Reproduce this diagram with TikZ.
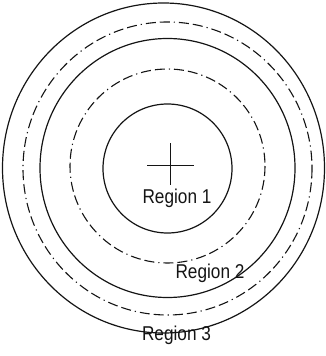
\documentclass[tikz,border=0pt]{standalone}
\usepackage{fontspec}
\usepackage{xcolor}
\newfontfamily\labelfont{Liberation Sans}
\definecolor{ringblack}{RGB}{20,20,20}
\usetikzlibrary{positioning}

\tikzset{
  ring/.style={draw=ringblack, line width=1.2pt},
  dashring/.style={draw=ringblack, line width=1.1pt, dash pattern=on 10pt off 4pt on 10pt off 4pt on 1.2pt off 4pt},
  regionlabel/.style={font=\labelfont\fontsize{20}{20}\selectfont, ringblack, inner sep=0pt, xscale=0.86}
}

\begin{document}
\begin{tikzpicture}[x=1pt, y=-1pt]
  % Frame
  \useasboundingbox (0,0) rectangle (325,356);

  % --- Solid rings ---
  \draw[ring] (167.5,168.5) circle [radius=64.5];
  \draw[ring] (167.5,168) ellipse [x radius=127.5, y radius=129.5];
  \draw[ring] (163.5,168) ellipse [x radius=161, y radius=165];

  % --- Dash-dot rings ---
  \draw[dashring] (167.5,166) ellipse [x radius=97.5, y radius=97];
  \draw[dashring] (167.5,168.5) ellipse [x radius=144.5, y radius=146.5];

  % Centre cross
  \draw[ring, line width=1pt] (147,165) -- (194,165);
  \draw[ring, line width=1pt] (170,143) -- (170,185);

  % Labels
  \node[regionlabel] (reg1) at (177,198) {Region 1};
  \node[regionlabel] (reg2) at (210,273) {Region 2};
  \node[regionlabel] (reg3) at (176.5,335) {Region 3};
\end{tikzpicture}
\end{document}
